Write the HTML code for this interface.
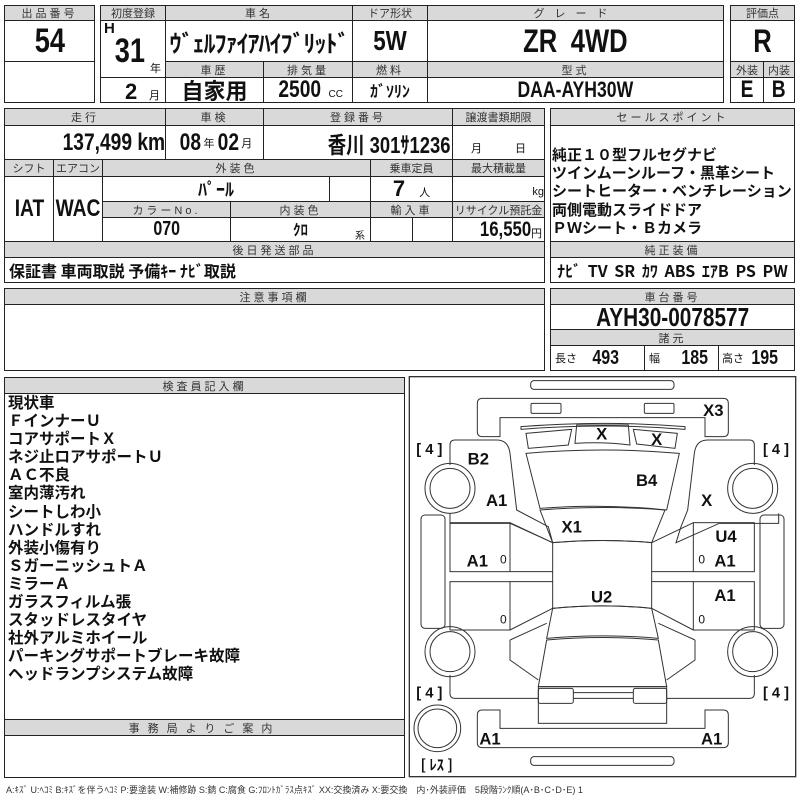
<!DOCTYPE html>
<html><head><meta charset="utf-8">
<style>
body{margin:0;background:#fff;}
#p{position:relative;width:800px;height:800px;overflow:hidden;font-family:"Liberation Sans","Noto Sans CJK JP",sans-serif;color:#111;}
.c{position:absolute;box-sizing:border-box;border:1px solid #222;display:flex;align-items:center;justify-content:center;white-space:nowrap;overflow:hidden;}
.h{background:#d9d9d9;font-size:11px;letter-spacing:3px;color:#333;}
.n{font-family:"Liberation Sans Narrow","Liberation Sans","Noto Sans CJK JP",sans-serif;font-weight:bold;}
.s{display:inline-block;transform:scaleX(.8);}
.t{position:absolute;white-space:nowrap;}
</style></head><body><div id="p">
<!-- top -->
<div class="c h" style="left:4px;top:5px;width:91px;height:16px">出品番号</div>
<div class="c n" style="left:4px;top:20px;width:91px;height:42px;font-size:34px"><span class="s">54</span></div>
<div class="c" style="left:4px;top:61px;width:91px;height:42px"></div>

<div class="c h" style="left:100px;top:5px;width:66px;height:16px;letter-spacing:0">初度登録</div>
<div class="c" style="left:100px;top:20px;width:66px;height:58px"></div>
<div class="t n" style="left:104px;top:20px;font-size:15px">H</div>
<div class="t n" style="left:111px;top:32px;font-size:34px"><span class="s">31</span></div>
<div class="t" style="left:150px;top:60px;font-size:11px">年</div>
<div class="c" style="left:100px;top:77px;width:66px;height:26px"></div>
<div class="t n" style="left:125px;top:79px;font-size:22px">2</div>
<div class="t" style="left:149px;top:87px;font-size:11px">月</div>

<div class="c h" style="left:165px;top:5px;width:188px;height:16px">車名</div>
<div class="c n" style="left:165px;top:20px;width:188px;height:42px;font-size:24px;font-family:'Noto Sans CJK JP',sans-serif;font-weight:bold;letter-spacing:-1px">ｳﾞｪﾙﾌｧｲｱﾊｲﾌﾞﾘｯﾄﾞ</div>
<div class="c h" style="left:165px;top:61px;width:99px;height:17px">車歴</div>
<div class="c" style="left:165px;top:77px;width:99px;height:26px;font-size:22px;font-weight:bold;font-family:'Noto Sans CJK JP',sans-serif">自家用</div>
<div class="c h" style="left:263px;top:61px;width:90px;height:17px">排気量</div>
<div class="c" style="left:263px;top:77px;width:90px;height:26px"><span class="n s" style="font-size:24px">2500</span><span style="font-size:10px;margin-left:2px;margin-top:8px">CC</span></div>

<div class="c h" style="left:352px;top:5px;width:76px;height:16px;letter-spacing:0">ドア形状</div>
<div class="c n" style="left:352px;top:20px;width:76px;height:42px;font-size:28px"><span class="s">5W</span></div>
<div class="c h" style="left:352px;top:61px;width:76px;height:17px">燃料</div>
<div class="c" style="left:352px;top:77px;width:76px;height:26px;font-size:16px;font-weight:bold;font-family:'Noto Sans CJK JP',sans-serif">ｶﾞｿﾘﾝ</div>

<div class="c h" style="left:427px;top:5px;width:297px;height:16px;letter-spacing:10px">グレード</div>
<div class="c n" style="left:427px;top:20px;width:297px;height:42px;font-size:32px;word-spacing:8px"><span class="s">ZR 4WD</span></div>
<div class="c h" style="left:427px;top:61px;width:297px;height:17px">型式</div>
<div class="c n" style="left:427px;top:77px;width:297px;height:26px;font-size:22px"><span class="s">DAA-AYH30W</span></div>

<div class="c h" style="left:730px;top:5px;width:65px;height:16px;letter-spacing:0">評価点</div>
<div class="c n" style="left:730px;top:20px;width:65px;height:42px;font-size:32px"><span class="s">R</span></div>
<div class="c h" style="left:730px;top:61px;width:34px;height:17px;letter-spacing:0">外装</div>
<div class="c h" style="left:763px;top:61px;width:32px;height:17px;letter-spacing:0">内装</div>
<div class="c n" style="left:730px;top:77px;width:34px;height:26px;font-size:24px"><span class="s">E</span></div>
<div class="c n" style="left:763px;top:77px;width:32px;height:26px;font-size:24px"><span class="s">B</span></div>

<!-- block 2 -->
<div class="c h" style="left:4px;top:108px;width:162px;height:18px">走行</div>
<div class="c n" style="left:4px;top:125px;width:162px;height:35px;font-size:24px;justify-content:flex-end;padding-right:0px"><span class="s" style="transform-origin:right center">137,499 km</span></div>
<div class="c h" style="left:165px;top:108px;width:99px;height:18px">車検</div>
<div class="c" style="left:165px;top:125px;width:99px;height:35px"><span class="n s" style="font-size:24px">08</span><span style="font-size:11px">年</span><span class="n s" style="font-size:24px">02</span><span style="font-size:11px">月</span></div>
<div class="c h" style="left:263px;top:108px;width:190px;height:18px">登録番号</div>
<div class="c" style="left:263px;top:125px;width:190px;height:35px;justify-content:flex-end;padding-right:2px;font-size:23px;font-weight:bold;font-family:'Liberation Sans','Noto Sans CJK JP',sans-serif"><span class="s" style="transform-origin:right center">香川 301ｻ1236</span></div>
<div class="c h" style="left:452px;top:108px;width:93px;height:18px;letter-spacing:0">譲渡書類期限</div>
<div class="c" style="left:452px;top:125px;width:93px;height:35px;font-size:11px;padding-top:10px;word-spacing:30px">月 日</div>

<div class="c h" style="left:4px;top:159px;width:50px;height:18px;letter-spacing:0">シフト</div>
<div class="c h" style="left:53px;top:159px;width:50px;height:18px;letter-spacing:0">エアコン</div>
<div class="c n" style="left:4px;top:176px;width:50px;height:66px;font-size:24px"><span class="s">IAT</span></div>
<div class="c n" style="left:53px;top:176px;width:50px;height:66px;font-size:24px"><span class="s">WAC</span></div>
<div class="c h" style="left:102px;top:159px;width:269px;height:18px">外装色</div>
<div class="c" style="left:102px;top:176px;width:228px;height:26px;font-size:18px;font-weight:bold;font-family:'Noto Sans CJK JP',sans-serif">ﾊﾟｰﾙ</div>
<div class="c" style="left:329px;top:176px;width:42px;height:26px"></div>
<div class="c h" style="left:370px;top:159px;width:83px;height:18px;letter-spacing:0">乗車定員</div>
<div class="c" style="left:370px;top:176px;width:83px;height:26px"><span class="n" style="font-size:22px">7</span><span style="font-size:11px;margin-left:14px;margin-top:6px">人</span></div>
<div class="c h" style="left:452px;top:159px;width:93px;height:18px;letter-spacing:0">最大積載量</div>
<div class="c" style="left:452px;top:176px;width:93px;height:26px;justify-content:flex-end;font-size:11px;padding-top:6px">kg</div>
<div class="c h" style="left:102px;top:201px;width:129px;height:17px">カラーNo.</div>
<div class="c h" style="left:230px;top:201px;width:141px;height:17px">内装色</div>
<div class="c h" style="left:370px;top:201px;width:83px;height:17px">輸入車</div>
<div class="c h" style="left:452px;top:201px;width:93px;height:17px;letter-spacing:0">リサイクル預託金</div>
<div class="c n" style="left:102px;top:217px;width:129px;height:25px;font-size:20px"><span class="s">070</span></div>
<div class="c" style="left:230px;top:217px;width:141px;height:25px;font-size:15px;font-weight:bold">ｸﾛ</div>
<div class="t" style="left:355px;top:227px;font-size:10px">系</div>
<div class="c" style="left:370px;top:217px;width:43px;height:25px"></div>
<div class="c" style="left:412px;top:217px;width:41px;height:25px"></div>
<div class="c" style="left:452px;top:217px;width:93px;height:25px;justify-content:flex-end;padding-right:2px"><span class="n s" style="font-size:21px;transform-origin:right center">16,550</span><span style="font-size:11px;margin-top:6px">円</span></div>
<div class="c h" style="left:4px;top:241px;width:541px;height:17px">後日発送部品</div>
<div class="c" style="left:4px;top:257px;width:541px;height:26px;justify-content:flex-start;padding-left:4px;font-size:16px;font-weight:bold;font-family:'Noto Sans CJK JP',sans-serif">保証書 車両取説 予備ｷｰ ﾅﾋﾞ取説</div>

<div class="c h" style="left:550px;top:108px;width:245px;height:18px">セールスポイント</div>
<div class="c" style="left:550px;top:125px;width:245px;height:117px"></div>
<div class="t" style="left:552px;top:146px;font-size:15px;line-height:18.2px;font-weight:bold;font-family:'Noto Sans CJK JP',sans-serif">純正１０型フルセグナビ<br>ツインムーンルーフ・黒革シート<br>シートヒーター・ベンチレーション<br>両側電動スライドドア<br>ＰＷシート・Ｂカメラ</div>
<div class="c h" style="left:550px;top:241px;width:245px;height:17px">純正装備</div>
<div class="c n" style="left:550px;top:257px;width:245px;height:26px;font-size:16px;font-family:'Noto Sans CJK JP',sans-serif;word-spacing:3px">ﾅﾋﾞ TV SR ｶﾜ ABS ｴｱB PS PW</div>

<!-- block 3 -->
<div class="c h" style="left:4px;top:288px;width:541px;height:17px">注意事項欄</div>
<div class="c" style="left:4px;top:304px;width:541px;height:67px"></div>
<div class="c h" style="left:550px;top:288px;width:245px;height:17px">車台番号</div>
<div class="c n" style="left:550px;top:304px;width:245px;height:26px;font-size:26px"><span class="s">AYH30-0078577</span></div>
<div class="c h" style="left:550px;top:329px;width:245px;height:17px">諸元</div>
<div class="c" style="left:550px;top:345px;width:95px;height:26px;justify-content:flex-start;padding-left:4px"><span style="font-size:11px">長さ</span><span class="n s" style="font-size:20px;margin-left:12px">493</span></div>
<div class="c" style="left:644px;top:345px;width:75px;height:26px;justify-content:flex-start;padding-left:4px"><span style="font-size:11px">幅</span><span class="n s" style="font-size:20px;margin-left:18px">185</span></div>
<div class="c" style="left:718px;top:345px;width:77px;height:26px;justify-content:flex-start;padding-left:3px"><span style="font-size:11px">高さ</span><span class="n s" style="font-size:20px;margin-left:4px">195</span></div>

<!-- inspector -->
<div class="c" style="left:4px;top:377px;width:401px;height:401px"></div>
<div class="c h" style="left:4px;top:377px;width:401px;height:17px">検査員記入欄</div>
<div class="t" style="left:8px;top:393px;font-size:15.5px;line-height:18.1px;font-weight:bold;font-family:'Noto Sans CJK JP',sans-serif">現状車<br>ＦインナーＵ<br>コアサポートＸ<br>ネジ止ロアサポートＵ<br>ＡＣ不良<br>室内薄汚れ<br>シートしわ小<br>ハンドルすれ<br>外装小傷有り<br>ＳガーニッシュトＡ<br>ミラーＡ<br>ガラスフィルム張<br>スタッドレスタイヤ<br>社外アルミホイール<br>パーキングサポートブレーキ故障<br>ヘッドランプシステム故障</div>
<div class="c h" style="left:4px;top:719px;width:401px;height:17px;letter-spacing:8px">事務局よりご案内</div>

<div class="t" style="left:6px;top:783px;font-size:9px;color:#333">A:ｷｽﾞ U:ﾍｺﾐ B:ｷｽﾞを伴うﾍｺﾐ P:要塗装 W:補修跡 S:錆 C:腐食 G:ﾌﾛﾝﾄｶﾞﾗｽ点ｷｽﾞ XX:交換済み X:要交換　内･外装評価　5段階ﾗﾝｸ順(A･B･C･D･E) 1</div>

<!-- car diagram -->
<svg style="position:absolute;left:400px;top:370px" width="400" height="430" viewBox="0 0 1200 1290">
<g fill="none" stroke="#333" stroke-width="3">
<rect x="28" y="20" width="1159" height="1200" stroke-width="4"/>
<rect x="392" y="32" width="430" height="26" rx="10"/>
<rect x="392" y="1160" width="430" height="26" rx="10"/>
<path d="M232,100 Q232,85 247,85 H970 Q985,85 985,100 V185 Q985,200 970,200 H915 V143 H300 V200 H247 Q232,200 232,185 Z"/>
<path d="M232,1118 Q232,1133 247,1133 H970 Q985,1133 985,1118 V1035 Q985,1020 970,1020 H915 V1075 H300 V1020 H247 Q232,1020 232,1035 Z"/>
<rect x="393" y="100" width="90" height="30" rx="4"/>
<rect x="733" y="100" width="89" height="30" rx="4"/>
<path d="M363,178 Q610,158 855,178 L855,170 Q610,150 363,170 Z"/>
<path d="M378,190 L515,178 L505,225 L385,235 Z"/>
<path d="M530,165 L685,165 L690,225 Q610,215 525,220 Z"/>
<path d="M700,178 L832,190 L825,235 L710,222 Z"/>
<path d="M378,250 Q610,230 838,250 L800,420 Q610,400 420,415 Z"/>
<path d="M420,420 Q610,405 795,420 L755,518 Q610,505 458,518 Z"/>
<path d="M458,518 Q610,505 755,518 L755,715 Q610,700 458,715 Z"/>
<path d="M458,715 Q610,700 755,715 L775,805 Q610,790 440,805 Z"/>
<path d="M440,810 Q610,795 775,810 L800,950 H415 Z"/>
<rect x="415" y="950" width="385" height="110"/>
<rect x="415" y="955" width="105" height="45" rx="6"/>
<rect x="700" y="955" width="100" height="45" rx="6"/>
<path d="M520,968 H700 M520,985 H700"/>
<path d="M150,285 V225 Q150,210 165,210 H290 Q325,210 330,250 L350,420 L445,470 L458,518 L330,460 H150 V430"/>
<path d="M990,285 V225 Q990,210 975,210 H850 Q815,210 810,250 L790,420 L770,470 L755,518 L885,460 H1063 V430" transform="translate(73,0)"/>
<rect x="150" y="458" width="180" height="147"/>
<rect x="150" y="635" width="180" height="145"/>
<path d="M330,458 L458,518 M330,605 H458 M330,635 H458 M330,780 L458,715"/>
<rect x="880" y="458" width="183" height="147"/>
<rect x="880" y="635" width="183" height="145"/>
<path d="M880,458 L755,518 M880,605 H755 M880,635 H755 M880,780 L755,715"/>
<rect x="63" y="435" width="72" height="340" rx="12"/>
<rect x="1080" y="435" width="72" height="340" rx="12"/>
<path d="M150,915 V970 Q150,985 165,985 H415 M330,810 V870 L415,930 M330,810 L440,760"/>
<path d="M1063,915 V970 Q1063,985 1048,985 H800 M885,810 V870 L800,930 M885,810 L775,760"/>
<circle cx="150" cy="355" r="75"/><circle cx="150" cy="355" r="60"/>
<circle cx="1058" cy="355" r="75"/><circle cx="1058" cy="355" r="60"/>
<circle cx="150" cy="845" r="75"/><circle cx="150" cy="845" r="60"/>
<circle cx="1058" cy="845" r="75"/><circle cx="1058" cy="845" r="60"/>
<circle cx="112" cy="1075" r="70"/><circle cx="112" cy="1075" r="58"/>
</g>
<g font-family="Liberation Sans, Noto Sans CJK JP, sans-serif" font-weight="bold" font-size="50" fill="#111" text-anchor="middle">
<text x="940" y="138">X3</text>
<text x="605" y="208">X</text>
<text x="770" y="225">X</text>
<text x="235" y="283">B2</text>
<text x="290" y="408">A1</text>
<text x="740" y="348">B4</text>
<text x="920" y="408">X</text>
<text x="515" y="488">X1</text>
<text x="978" y="516">U4</text>
<text x="232" y="590">A1</text>
<text x="975" y="590">A1</text>
<text x="605" y="698">U2</text>
<text x="975" y="693">A1</text>
<text x="270" y="1123">A1</text>
<text x="935" y="1123">A1</text>
<g font-weight="normal" font-size="36">
<text x="310" y="580">0</text><text x="905" y="580">0</text>
<text x="310" y="760">0</text><text x="905" y="760">0</text>
</g>
<g font-size="44">
<text x="88" y="252">[ 4 ]</text>
<text x="1128" y="252">[ 4 ]</text>
<text x="88" y="982">[ 4 ]</text>
<text x="1128" y="982">[ 4 ]</text>
<text x="110" y="1200" font-family="Noto Sans CJK JP, sans-serif">[ ﾚｽ ]</text>
</g>
</g>
</svg>
</div></body></html>
